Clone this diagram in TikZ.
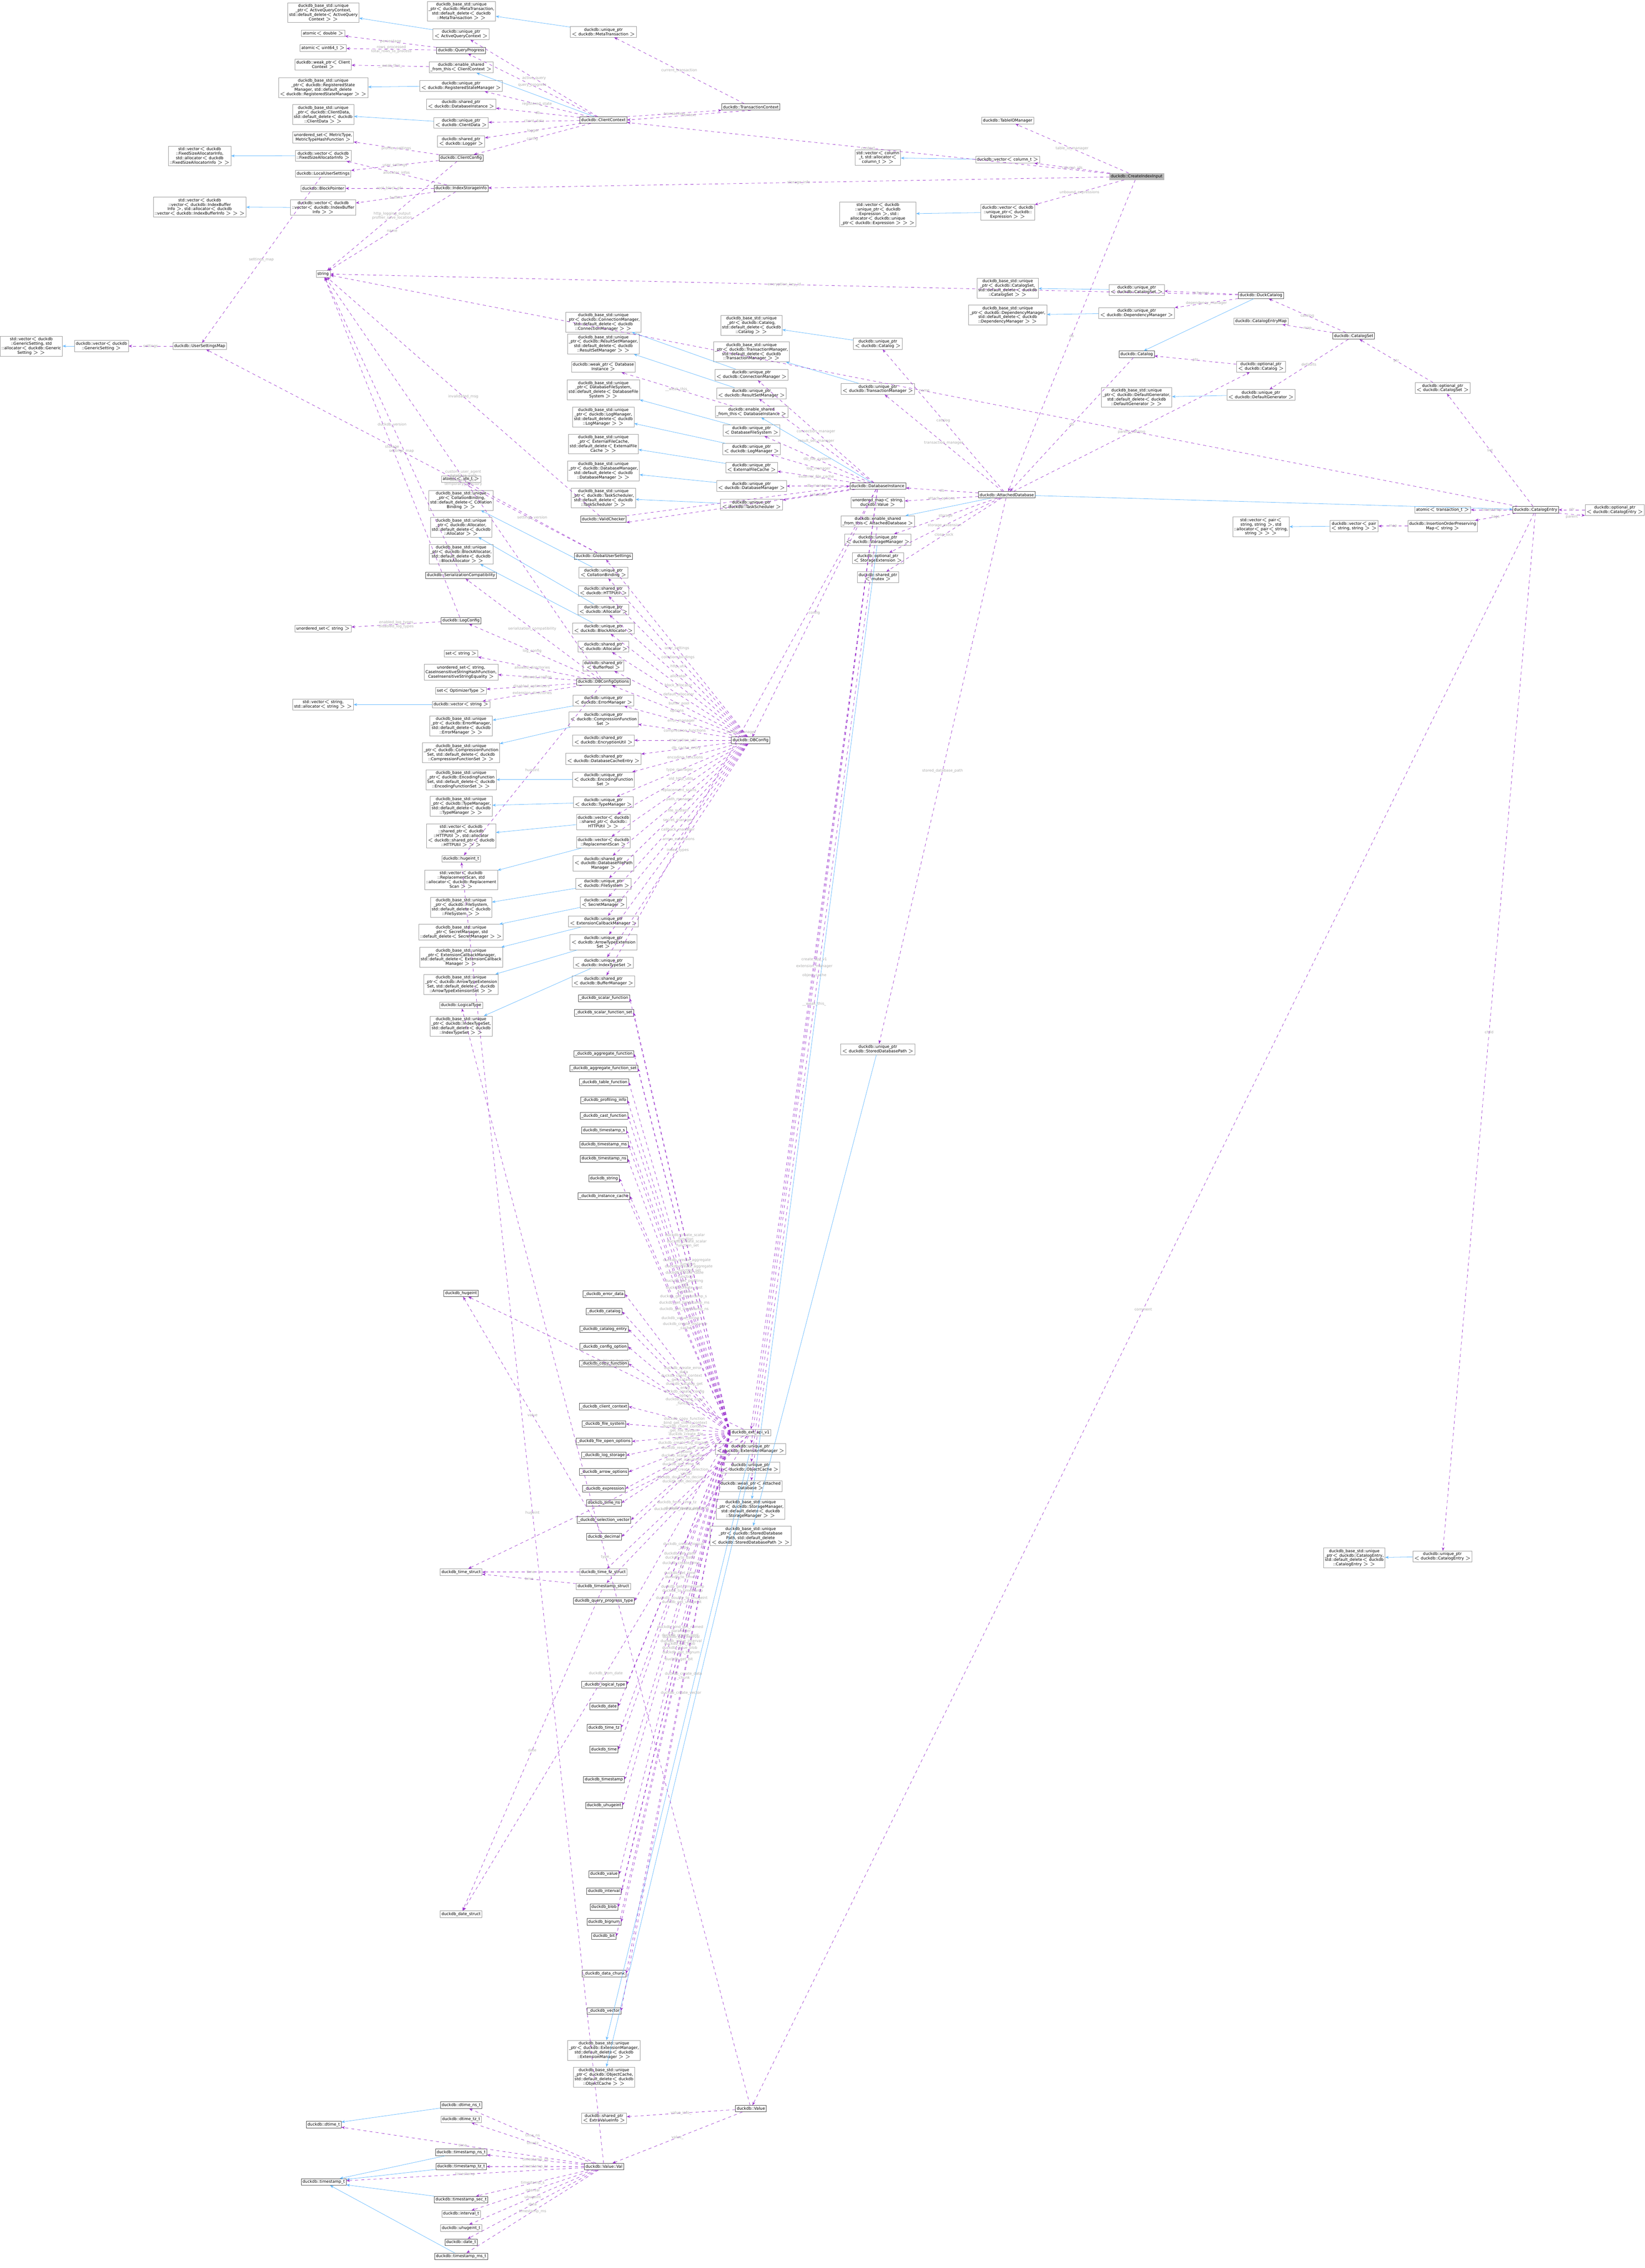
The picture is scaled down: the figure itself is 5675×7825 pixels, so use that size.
\documentclass[tikz,border=0pt]{standalone}
\usepackage{fontspec}
\setmainfont{DejaVu Sans}
\usetikzlibrary{arrows.meta}
\definecolor{memc}{HTML}{9A32CD}
\definecolor{inhc}{HTML}{63B8FF}
\definecolor{boxc}{HTML}{999999}
\definecolor{lblc}{HTML}{AAAAAA}
\tikzset{
  box/.style={draw=boxc,line width=0.3pt,fill=white,font=\fontsize{3.9}{4.4}\selectfont,align=center,inner sep=1.3pt,minimum height=0.22cm},
  hub/.style={box,draw=black!70},
  me/.style={draw=gray!60,fill=gray!55,font=\fontsize{3.9}{4.4}\selectfont,inner sep=1.3pt,minimum height=0.22cm},
  mem/.style={draw=memc,dashed,line width=0.35pt,-{Stealth[length=3.5pt]}},
  inh/.style={draw=inhc,line width=0.35pt,-{Stealth[length=3.5pt]}},
  lbl/.style={font=\fontsize{3.6}{4}\selectfont,text=lblc,align=center,inner sep=0.5pt,midway}
}
\begin{document}
\begin{tikzpicture}[x=0.01cm,y=-0.01cm]
\useasboundingbox (0,0) rectangle (5675,7825);
% top: client context
\node[box] (aqcb) at (1116,43) {duckdb\_base\_std::unique\\\_ptr$<$ ActiveQueryContext,\\std::default\_delete$<$ ActiveQuery\\Context $>$ $>$};
\node[box] (mtb) at (1592,39) {duckdb\_base\_std::unique\\\_ptr$<$ duckdb::MetaTransaction,\\std::default\_delete$<$ duckdb\\::MetaTransaction $>$ $>$};
\node[box] (aqc) at (1591,118) {duckdb::unique\_ptr\\$<$ ActiveQueryContext $>$};
\node[box] (mt) at (2082,110) {duckdb::unique\_ptr\\$<$ duckdb::MetaTransaction $>$};
\node[box] (atd) at (1115,115) {atomic$<$ double $>$};
\node[box] (atu) at (1115,166) {atomic$<$ uint64\_t $>$};
\node[hub] (qp) at (1591,174) {duckdb::QueryProgress};
\node[box] (wcc) at (1115,223) {duckdb::weak\_ptr$<$ Client\\Context $>$};
\node[box] (escc) at (1591,232) {duckdb::enable\_shared\\\_from\_this$<$ ClientContext $>$};
\node[box] (rsmb) at (1115,302) {duckdb\_base\_std::unique\\\_ptr$<$ duckdb::RegisteredState\\Manager, std::default\_delete\\$<$ duckdb::RegisteredStateManager $>$ $>$};
\node[box] (rsm) at (1591,296) {duckdb::unique\_ptr\\$<$ duckdb::RegisteredStateManager $>$};
\node[box] (spdi) at (1591,360) {duckdb::shared\_ptr\\$<$ duckdb::DatabaseInstance $>$};
\node[box] (cdb) at (1115,395) {duckdb\_base\_std::unique\\\_ptr$<$ duckdb::ClientData,\\std::default\_delete$<$ duckdb\\::ClientData $>$ $>$};
\node[box] (cd) at (1591,424) {duckdb::unique\_ptr\\$<$ duckdb::ClientData $>$};
\node[hub] (cc) at (2082,414) {duckdb::ClientContext};
\node[hub] (tc) at (2591,369) {duckdb::TransactionContext};
\node[box] (mtype) at (1115,474) {unordered\_set$<$ MetricType,\\MetricTypeHashFunction $>$};
\node[box] (lg) at (1591,488) {duckdb::shared\_ptr\\$<$ duckdb::Logger $>$};
\node[box] (vfsa) at (1115,537) {duckdb::vector$<$ duckdb\\::FixedSizeAllocatorInfo $>$};
\node[box] (svfsa) at (689,538) {std::vector$<$ duckdb\\::FixedSizeAllocatorInfo,\\std::allocator$<$ duckdb\\::FixedSizeAllocatorInfo $>$ $>$};
\node[hub] (ccfg) at (1591,545) {duckdb::ClientConfig};
\node[box] (lus) at (1115,599) {duckdb::LocalUserSettings};
\node[box] (bp) at (1115,650) {duckdb::BlockPointer};
\node[hub] (isi) at (1591,650) {duckdb::IndexStorageInfo};
\node[box] (vvib) at (1115,716) {duckdb::vector$<$ duckdb\\::vector$<$ duckdb::IndexBuffer\\Info $>$ $>$};
\node[box] (svvib) at (689,714) {std::vector$<$ duckdb\\::vector$<$ duckdb::IndexBuffer\\Info $>$, std::allocator$<$ duckdb\\::vector$<$ duckdb::IndexBufferInfo $>$ $>$ $>$};
\node[box] (str) at (1115,945) {string};
\node[box] (usm) at (689,1194) {duckdb::UserSettingsMap};
\node[box] (vgs) at (350,1194) {duckdb::vector$<$ duckdb\\::GenericSetting $>$};
\node[box] (svgs) at (108,1194) {std::vector$<$ duckdb\\::GenericSetting, std\\::allocator$<$ duckdb::Generic\\Setting $>$ $>$};
\node[box] (uss) at (1115,2169) {unordered\_set$<$ string $>$};
\node[box] (svs) at (1115,2431) {std::vector$<$ string,\\std::allocator$<$ string $>$ $>$};
% create index input and catalog
\node[box] (tiom) at (3477,416) {duckdb::TableIOManager};
\node[me] (cii) at (3922,609) {duckdb::CreateIndexInput};
\node[box] (vcol) at (3477,551) {duckdb::vector$<$ column\_t $>$};
\node[box] (svcol) at (3029,544) {std::vector$<$ column\\\_t, std::allocator$<$\\column\_t $>$ $>$};
\node[box] (vexp) at (3477,732) {duckdb::vector$<$ duckdb\\::unique\_ptr$<$ duckdb::\\Expression $>$ $>$};
\node[box] (svexp) at (3029,739) {std::vector$<$ duckdb\\::unique\_ptr$<$ duckdb\\::Expression $>$, std::\\allocator$<$ duckdb::unique\\\_ptr$<$ duckdb::Expression $>$ $>$ $>$};
\node[hub] (dcat) at (4351,1019) {duckdb::DuckCatalog};
\node[box] (ucs) at (3922,1000) {duckdb::unique\_ptr\\$<$ duckdb::CatalogSet $>$};
\node[box] (ucsb) at (3477,994) {duckdb\_base\_std::unique\\\_ptr$<$ duckdb::CatalogSet,\\std::default\_delete$<$ duckdb\\::CatalogSet $>$ $>$};
\node[box] (udm) at (3922,1080) {duckdb::unique\_ptr\\$<$ duckdb::DependencyManager $>$};
\node[box] (udmb) at (3477,1087) {duckdb\_base\_std::unique\\\_ptr$<$ duckdb::DependencyManager,\\std::default\_delete$<$ duckdb\\::DependencyManager $>$ $>$};
\node[box] (cem) at (4351,1108) {duckdb::CatalogEntryMap};
\node[hub] (cset) at (4671,1159) {duckdb::CatalogSet};
\node[hub] (cat) at (3922,1222) {duckdb::Catalog};
\node[box] (ocat) at (4351,1265) {duckdb::optional\_ptr\\$<$ duckdb::Catalog $>$};
\node[box] (ucat) at (3029,1186) {duckdb::unique\_ptr\\$<$ duckdb::Catalog $>$};
\node[box] (ucatb) at (2593,1122) {duckdb\_base\_std::unique\\\_ptr$<$ duckdb::Catalog,\\std::default\_delete$<$ duckdb\\::Catalog $>$ $>$};
\node[box] (utm) at (3029,1342) {duckdb::unique\_ptr\\$<$ duckdb::TransactionManager $>$};
\node[box] (utmb) at (2593,1214) {duckdb\_base\_std::unique\\\_ptr$<$ duckdb::TransactionManager,\\std::default\_delete$<$ duckdb\\::TransactionManager $>$ $>$};
\node[box] (udg) at (4351,1362) {duckdb::unique\_ptr\\$<$ duckdb::DefaultGenerator $>$};
\node[box] (udgb) at (3922,1371) {duckdb\_base\_std::unique\\\_ptr$<$ duckdb::DefaultGenerator,\\std::default\_delete$<$ duckdb\\::DefaultGenerator $>$ $>$};
\node[box] (ocs) at (4978,1339) {duckdb::optional\_ptr\\$<$ duckdb::CatalogSet $>$};
\node[hub] (adb) at (3474,1707) {duckdb::AttachedDatabase};
\node[hub] (ce) at (5299,1759) {duckdb::CatalogEntry};
\node[box] (oce) at (5572,1759) {duckdb::optional\_ptr\\$<$ duckdb::CatalogEntry $>$};
\node[box] (att) at (4978,1759) {atomic$<$ transaction\_t $>$};
\node[box] (iopm) at (4978,1815) {duckdb::InsertionOrderPreserving\\Map$<$ string $>$};
\node[box] (vpr) at (4672,1815) {duckdb::vector$<$ pair\\$<$ string, string $>$ $>$};
\node[box] (svpr) at (4351,1818) {std::vector$<$ pair$<$\\string, string $>$, std\\::allocator$<$ pair$<$ string,\\string $>$ $>$ $>$};
\node[box] (uce) at (4977,5370) {duckdb::unique\_ptr\\$<$ duckdb::CatalogEntry $>$};
\node[box] (uceb) at (4673,5375) {duckdb\_base\_std::unique\\\_ptr$<$ duckdb::CatalogEntry,\\std::default\_delete$<$ duckdb\\::CatalogEntry $>$ $>$};
% database instance
\node[box] (cmb) at (2082,1111) {duckdb\_base\_std::unique\\\_ptr$<$ duckdb::ConnectionManager,\\std::default\_delete$<$ duckdb\\::ConnectionManager $>$ $>$};
\node[box] (rsmgb) at (2082,1187) {duckdb\_base\_std::unique\\\_ptr$<$ duckdb::ResultSetManager,\\std::default\_delete$<$ duckdb\\::ResultSetManager $>$ $>$};
\node[box] (wdi) at (2082,1266) {duckdb::weak\_ptr$<$ Database\\Instance $>$};
\node[box] (dfsb) at (2082,1345) {duckdb\_base\_std::unique\\\_ptr$<$ DatabaseFileSystem,\\std::default\_delete$<$ DatabaseFile\\System $>$ $>$};
\node[box] (lmb) at (2082,1438) {duckdb\_base\_std::unique\\\_ptr$<$ duckdb::LogManager,\\std::default\_delete$<$ duckdb\\::LogManager $>$ $>$};
\node[box] (efcb) at (2082,1532) {duckdb\_base\_std::unique\\\_ptr$<$ ExternalFileCache,\\std::default\_delete$<$ ExternalFile\\Cache $>$ $>$};
\node[box] (dmb) at (2082,1625) {duckdb\_base\_std::unique\\\_ptr$<$ duckdb::DatabaseManager,\\std::default\_delete$<$ duckdb\\::DatabaseManager $>$ $>$};
\node[box] (tsb) at (2082,1718) {duckdb\_base\_std::unique\\\_ptr$<$ duckdb::TaskScheduler,\\std::default\_delete$<$ duckdb\\::TaskScheduler $>$ $>$};
\node[box] (ucm) at (2593,1293) {duckdb::unique\_ptr\\$<$ duckdb::ConnectionManager $>$};
\node[box] (ursm) at (2593,1357) {duckdb::unique\_ptr\\$<$ duckdb::ResultSetManager $>$};
\node[box] (esdi) at (2593,1421) {duckdb::enable\_shared\\\_from\_this$<$ DatabaseInstance $>$};
\node[box] (udfs) at (2593,1485) {duckdb::unique\_ptr\\$<$ DatabaseFileSystem $>$};
\node[box] (ulm) at (2593,1549) {duckdb::unique\_ptr\\$<$ duckdb::LogManager $>$};
\node[box] (uefc) at (2593,1613) {duckdb::unique\_ptr\\$<$ ExternalFileCache $>$};
\node[box] (udbm) at (2593,1677) {duckdb::unique\_ptr\\$<$ duckdb::DatabaseManager $>$};
\node[box] (uts) at (2593,1741) {duckdb::unique\_ptr\\$<$ duckdb::TaskScheduler $>$};
\node[hub] (di) at (3029,1677) {duckdb::DatabaseInstance};
\node[box] (umv) at (3029,1734) {unordered\_map$<$ string,\\duckdb::Value $>$};
\node[box] (esad) at (3029,1799) {duckdb::enable\_shared\\\_from\_this$<$ AttachedDatabase $>$};
\node[box] (usm2) at (3029,1862) {duckdb::unique\_ptr\\$<$ duckdb::StorageManager $>$};
\node[box] (ose) at (3029,1926) {duckdb::optional\_ptr\\$<$ StorageExtension $>$};
\node[box] (spmx) at (3029,1991) {duckdb::shared\_ptr\\$<$ mutex $>$};
\node[box] (usdp) at (3029,3620) {duckdb::unique\_ptr\\$<$ duckdb::StoredDatabasePath $>$};
\node[hub] (vc) at (2082,1791) {duckdb::ValidChecker};
% db config
\node[box] (atidx) at (1591,1653) {atomic$<$ idx\_t $>$};
\node[box] (cbb) at (1591,1726) {duckdb\_base\_std::unique\\\_ptr$<$ CollationBinding,\\std::default\_delete$<$ Collation\\Binding $>$ $>$};
\node[box] (alb) at (1591,1819) {duckdb\_base\_std::unique\\\_ptr$<$ duckdb::Allocator,\\std::default\_delete$<$ duckdb\\::Allocator $>$ $>$};
\node[box] (balb) at (1591,1912) {duckdb\_base\_std::unique\\\_ptr$<$ duckdb::BlockAllocator,\\std::default\_delete$<$ duckdb\\::BlockAllocator $>$ $>$};
\node[hub] (serc) at (1591,1985) {duckdb::SerializationCompatibility};
\node[hub] (lcfg) at (1591,2141) {duckdb::LogConfig};
\node[box] (sets) at (1591,2255) {set$<$ string $>$};
\node[box] (usci) at (1591,2319) {unordered\_set$<$ string,\\CaseInsensitiveStringHashFunction,\\CaseInsensitiveStringEquality $>$};
\node[box] (sopt) at (1591,2383) {set$<$ OptimizerType $>$};
\node[box] (vstr) at (1591,2431) {duckdb::vector$<$ string $>$};
\node[box] (emb) at (1591,2504) {duckdb\_base\_std::unique\\\_ptr$<$ duckdb::ErrorManager,\\std::default\_delete$<$ duckdb\\::ErrorManager $>$ $>$};
\node[box] (cfsb) at (1591,2597) {duckdb\_base\_std::unique\\\_ptr$<$ duckdb::CompressionFunction\\Set, std::default\_delete$<$ duckdb\\::CompressionFunctionSet $>$ $>$};
\node[box] (efsb) at (1591,2690) {duckdb\_base\_std::unique\\\_ptr$<$ duckdb::EncodingFunction\\Set, std::default\_delete$<$ duckdb\\::EncodingFunctionSet $>$ $>$};
\node[box] (tmb) at (1591,2781) {duckdb\_base\_std::unique\\\_ptr$<$ duckdb::TypeManager,\\std::default\_delete$<$ duckdb\\::TypeManager $>$ $>$};
\node[box] (svhu) at (1591,2884) {std::vector$<$ duckdb\\::shared\_ptr$<$ duckdb\\::HTTPUtil $>$, std::allocator\\$<$ duckdb::shared\_ptr$<$ duckdb\\::HTTPUtil $>$ $>$ $>$};
\node[box] (hug) at (1591,2963) {duckdb::hugeint\_t};
\node[box] (svrs) at (1591,3036) {std::vector$<$ duckdb\\::ReplacementScan, std\\::allocator$<$ duckdb::Replacement\\Scan $>$ $>$};
\node[box] (fsb) at (1591,3130) {duckdb\_base\_std::unique\\\_ptr$<$ duckdb::FileSystem,\\std::default\_delete$<$ duckdb\\::FileSystem $>$ $>$};
\node[box] (smb) at (1591,3216) {duckdb\_base\_std::unique\\\_ptr$<$ SecretManager, std\\::default\_delete$<$ SecretManager $>$ $>$};
\node[box] (ecmb) at (1591,3303) {duckdb\_base\_std::unique\\\_ptr$<$ ExtensionCallbackManager,\\std::default\_delete$<$ ExtensionCallback\\Manager $>$ $>$};
\node[box] (atesb) at (1591,3396) {duckdb\_base\_std::unique\\\_ptr$<$ duckdb::ArrowTypeExtension\\Set, std::default\_delete$<$ duckdb\\::ArrowTypeExtensionSet $>$ $>$};
\node[box] (ltype) at (1591,3468) {duckdb::LogicalType};
\node[box] (itsb) at (1591,3540) {duckdb\_base\_std::unique\\\_ptr$<$ duckdb::IndexTypeSet,\\std::default\_delete$<$ duckdb\\::IndexTypeSet $>$ $>$};
\node[hub] (gus) at (2082,1919) {duckdb::GlobalUserSettings};
\node[box] (ucb) at (2082,1976) {duckdb::unique\_ptr\\$<$ CollationBinding $>$};
\node[box] (sphu) at (2082,2039) {duckdb::shared\_ptr\\$<$ duckdb::HTTPUtil $>$};
\node[box] (ual) at (2082,2103) {duckdb::unique\_ptr\\$<$ duckdb::Allocator $>$};
\node[box] (uba) at (2082,2168) {duckdb::unique\_ptr\\$<$ duckdb::BlockAllocator $>$};
\node[box] (spal) at (2082,2231) {duckdb::shared\_ptr\\$<$ duckdb::Allocator $>$};
\node[box] (spbp) at (2082,2296) {duckdb::shared\_ptr\\$<$ BufferPool $>$};
\node[hub] (dbo) at (2082,2353) {duckdb::DBConfigOptions};
\node[box] (uem) at (2082,2417) {duckdb::unique\_ptr\\$<$ duckdb::ErrorManager $>$};
\node[box] (ucfs) at (2082,2482) {duckdb::unique\_ptr\\$<$ duckdb::CompressionFunction\\Set $>$};
\node[box] (speu) at (2082,2554) {duckdb::shared\_ptr\\$<$ duckdb::EncryptionUtil $>$};
\node[box] (spdce) at (2082,2618) {duckdb::shared\_ptr\\$<$ duckdb::DatabaseCacheEntry $>$};
\node[box] (uefs) at (2082,2690) {duckdb::unique\_ptr\\$<$ duckdb::EncodingFunction\\Set $>$};
\node[box] (utym) at (2082,2768) {duckdb::unique\_ptr\\$<$ duckdb::TypeManager $>$};
\node[box] (vshu) at (2082,2836) {duckdb::vector$<$ duckdb\\::shared\_ptr$<$ duckdb::\\HTTPUtil $>$ $>$};
\node[box] (vrs) at (2082,2906) {duckdb::vector$<$ duckdb\\::ReplacementScan $>$};
\node[box] (spdfp) at (2082,2979) {duckdb::shared\_ptr\\$<$ duckdb::DatabaseFilePath\\Manager $>$};
\node[box] (ufs) at (2082,3049) {duckdb::unique\_ptr\\$<$ duckdb::FileSystem $>$};
\node[box] (usec) at (2082,3114) {duckdb::unique\_ptr\\$<$ SecretManager $>$};
\node[box] (uecm) at (2082,3179) {duckdb::unique\_ptr\\$<$ ExtensionCallbackManager $>$};
\node[box] (uates) at (2082,3251) {duckdb::unique\_ptr\\$<$ duckdb::ArrowTypeExtension\\Set $>$};
\node[box] (uits) at (2082,3322) {duckdb::unique\_ptr\\$<$ duckdb::IndexTypeSet $>$};
\node[box] (spbm) at (2082,3385) {duckdb::shared\_ptr\\$<$ duckdb::BufferManager $>$};
\node[hub] (dbc) at (2590,2554) {duckdb::DBConfig};
% extension api
\node[box] (eapi) at (2590,4943) {duckdb\_ext\_api\_v1};
\node[box] (uem2) at (2590,4999) {duckdb::unique\_ptr\\$<$ duckdb::ExtensionManager $>$};
\node[box] (uoc) at (2590,5063) {duckdb::unique\_ptr\\$<$ duckdb::ObjectCache $>$};
\node[box] (wad) at (2590,5127) {duckdb::weak\_ptr$<$ Attached\\Database $>$};
\node[box] (smgb) at (2590,5207) {duckdb\_base\_std::unique\\\_ptr$<$ duckdb::StorageManager,\\std::default\_delete$<$ duckdb\\::StorageManager $>$ $>$};
\node[box] (sdpb) at (2590,5299) {duckdb\_base\_std::unique\\\_ptr$<$ duckdb::StoredDatabase\\Path, std::default\_delete\\$<$ duckdb::StoredDatabasePath $>$ $>$};
\node[hub] (dhug) at (1591,4462) {duckdb\_hugeint};
\node[box] (dts) at (1591,5424) {duckdb\_time\_struct};
\node[box] (dttz) at (2082,5424) {duckdb\_time\_tz\_struct};
\node[box] (dtss) at (2082,5473) {duckdb\_timestamp\_struct};
\node[box] (dds) at (1591,6604) {duckdb\_date\_struct};
\node[box] (emgb) at (2084,7074) {duckdb\_base\_std::unique\\\_ptr$<$ duckdb::ExtensionManager,\\std::default\_delete$<$ duckdb\\::ExtensionManager $>$ $>$};
\node[box] (ocb) at (2084,7166) {duckdb\_base\_std::unique\\\_ptr$<$ duckdb::ObjectCache,\\std::default\_delete$<$ duckdb\\::ObjectCache $>$ $>$};
\foreach \nm/\yy/\tx in {
  f1/3444/\_duckdb\_scalar\_function, f2/3494/\_duckdb\_scalar\_function\_set,
  f3/3636/\_duckdb\_aggregate\_function, f4/3686/\_duckdb\_aggregate\_function\_set,
  f5/3734/\_duckdb\_table\_function, f6/3796/\_duckdb\_profiling\_info,
  f7/3850/\_duckdb\_cast\_function, f8/3900/duckdb\_timestamp\_s,
  f9/3949/duckdb\_timestamp\_ms, f10/3998/duckdb\_timestamp\_ns,
  f11/4066/duckdb\_string, f12/4127/\_duckdb\_instance\_cache,
  f13/4465/\_duckdb\_error\_data, f14/4525/\_duckdb\_catalog,
  f15/4586/\_duckdb\_catalog\_entry, f16/4646/\_duckdb\_config\_option,
  f17/4705/\_duckdb\_copy\_function, f18/4853/\_duckdb\_client\_context,
  f19/4913/\_duckdb\_file\_system, f20/4973/\_duckdb\_file\_open\_options,
  f21/5021/\_duckdb\_log\_storage, f22/5078/\_duckdb\_arrow\_options,
  f23/5136/\_duckdb\_expression, f24/5185/duckdb\_time\_ns,
  f25/5244/\_duckdb\_selection\_vector, f26/5302/duckdb\_decimal,
  f27/5523/duckdb\_query\_progress\_type, f28/5812/\_duckdb\_logical\_type,
  f29/5887/duckdb\_date, f30/5961/duckdb\_time\_tz, f31/6036/duckdb\_time,
  f32/6140/duckdb\_timestamp, f33/6229/duckdb\_uhugeint, f34/6466/duckdb\_value,
  f35/6525/duckdb\_interval, f36/6580/duckdb\_blob, f37/6631/duckdb\_bignum,
  f38/6680/duckdb\_bit, f39/6809/\_duckdb\_data\_chunk, f40/6938/\_duckdb\_vector}
  \node[hub] (\nm) at (2084,\yy) {\tx};
% value
\node[hub] (val) at (2591,7275) {duckdb::Value};
\node[box] (spev) at (2084,7308) {duckdb::shared\_ptr\\$<$ ExtraValueInfo $>$};
\node[hub] (vv) at (2084,7475) {duckdb::Value::Val};
\node[hub] (dtn) at (1591,7263) {duckdb::dtime\_ns\_t};
\node[box] (dtz) at (1591,7312) {duckdb::dtime\_tz\_t};
\node[hub] (dt) at (1117,7330) {duckdb::dtime\_t};
\node[hub] (tsn) at (1591,7426) {duckdb::timestamp\_ns\_t};
\node[hub] (tstz) at (1591,7475) {duckdb::timestamp\_tz\_t};
\node[hub] (ts) at (1117,7528) {duckdb::timestamp\_t};
\node[hub] (tss) at (1591,7589) {duckdb::timestamp\_sec\_t};
\node[box] (itv) at (1591,7638) {duckdb::interval\_t};
\node[box] (uhg) at (1591,7687) {duckdb::uhugeint\_t};
\node[hub] (dte) at (1591,7736) {duckdb::date\_t};
\node[hub] (tsm) at (1591,7785) {duckdb::timestamp\_ms\_t};
% inheritance edges
\foreach \a/\b in {aqc/aqcb, mt/mtb, rsm/rsmb, cd/cdb, cc/escc, vfsa/svfsa, vvib/svvib, vgs/svgs,
  vcol/svcol, vexp/svexp, ucs/ucsb, udm/udmb, dcat/cat, ucat/ucatb, utm/utmb, udg/udgb, adb/ce,
  vpr/svpr, uce/uceb, ucm/cmb, ursm/rsmgb, udfs/dfsb, ulm/lmb, uefc/efcb, udbm/dmb, uts/tsb,
  di/esdi, adb/esad, ucb/cbb, ual/alb, uba/balb, uem/emb, ucfs/cfsb, uefs/efsb, utym/tmb,
  vshu/svhu, vrs/svrs, ufs/fsb, usec/smb, uecm/ecmb, uates/atesb, uits/itsb, vstr/svs,
  usm2/smgb, usdp/sdpb, uem2/emgb, uoc/ocb, dtn/dt, tsn/ts, tstz/ts, tss/ts, tsm/ts}
  \draw[inh] (\a) -- (\b);
% member edges
\draw[mem] (cc) -- node[lbl]{active\_query} (aqc);
\draw[mem] (cc) -- node[lbl]{query\_progress} (qp);
\draw[mem] (cc) -- node[lbl]{registered\_state} (rsm);
\draw[mem] (cc) -- node[lbl]{db} (spdi);
\draw[mem] (cc) -- node[lbl]{client\_data} (cd);
\draw[mem] (cc) -- node[lbl]{logger} (lg);
\draw[mem] (cc) -- node[lbl]{config} (ccfg);
\draw[mem] (cc.north east) -- node[lbl]{transaction} (tc.south west);
\draw[mem] (tc.south) -- node[lbl]{context} (cc.east);
\draw[mem] (tc) -- node[lbl]{current\_transaction} (mt);
\draw[mem] (qp) -- node[lbl]{percentage} (atd);
\draw[mem] (qp) -- node[lbl]{rows\_processed\\total\_rows\_to\_process} (atu);
\draw[mem] (escc) -- node[lbl]{\_\_weak\_this\_} (wcc);
\draw[mem] (ccfg) -- node[lbl]{profiler\_settings} (mtype);
\draw[mem] (ccfg) -- node[lbl]{user\_settings} (lus);
\draw[mem] (ccfg) -- node[lbl]{http\_logging\_output\\profiler\_save\_location} (str);
\draw[mem] (isi) -- node[lbl]{allocator\_infos} (vfsa);
\draw[mem] (isi) -- node[lbl]{root\_block\_ptr} (bp);
\draw[mem] (isi) -- node[lbl]{buffers} (vvib);
\draw[mem] (isi) -- node[lbl]{name} (str);
\draw[mem] (lus) -- node[lbl]{settings\_map} (usm);
\draw[mem] (gus) -- node[lbl]{settings\_map} (usm);
\draw[mem] (usm) -- node[lbl]{settings} (vgs);
\draw[mem] (cii) -- node[lbl]{table\_io\_manager} (tiom);
\draw[mem] (cii) -- node[lbl]{context} (cc);
\draw[mem] (cii) -- node[lbl]{column\_ids} (vcol);
\draw[mem] (cii) -- node[lbl]{storage\_info} (isi);
\draw[mem] (cii) -- node[lbl]{unbound\_expressions} (vexp);
\draw[mem] (cii) -- node[lbl]{db} (adb);
\draw[mem] (dcat) -- node[lbl]{schemas} (ucs);
\draw[mem] (dcat) -- node[lbl]{dependency\_manager} (udm);
\draw[mem] (dcat) -- node[lbl]{encryption\_key\_id} (str);
\draw[mem] (cset) -- node[lbl]{catalog} (dcat);
\draw[mem] (cset) -- node[lbl]{map} (cem);
\draw[mem] (cset) -- node[lbl]{defaults} (udg);
\draw[mem] (ocs) -- node[lbl]{ptr} (cset);
\draw[mem] (ocat) -- node[lbl]{ptr} (cat);
\draw[mem] (cat) -- node[lbl]{db} (adb);
\draw[mem] (adb) -- node[lbl]{catalog} (ucat);
\draw[mem] (adb) -- node[lbl]{transaction\_manager} (utm);
\draw[mem] (adb) -- node[lbl]{parent\_catalog} (ocat);
\draw[mem] (adb) -- node[lbl]{db} (di);
\draw[mem] (adb) -- node[lbl]{attach\_options} (umv);
\draw[mem] (adb) -- node[lbl]{storage} (usm2);
\draw[mem] (adb) -- node[lbl]{storage\_extension} (ose);
\draw[mem] (adb) -- node[lbl]{close\_lock} (spmx);
\draw[mem] (adb) -- node[lbl]{stored\_database\_path} (usdp);
\draw[mem] (esad) -- node[lbl]{\_\_weak\_this\_} (wad);
\draw[mem] (ce) -- node[lbl]{set} (ocs);
\draw[mem] (ce) -- node[lbl]{timestamp} (att);
\draw[mem] (ce.south east) -- node[lbl,below]{parent} (oce.south west);
\draw[mem] (oce) -- node[lbl]{ptr} (ce);
\draw[mem] (ce) -- node[lbl]{child} (uce);
\draw[mem] (ce) -- node[lbl]{name} (str);
\draw[mem] (ce) -- node[lbl]{comment} (val);
\draw[mem] (ce) -- node[lbl]{tags} (iopm);
\draw[mem] (iopm) -- node[lbl]{map} (vpr);
\draw[mem] (di) -- node[lbl]{connection\_manager} (ucm);
\draw[mem] (di) -- node[lbl]{result\_set\_manager} (ursm);
\draw[mem] (di) -- node[lbl]{db\_file\_system} (udfs);
\draw[mem] (di) -- node[lbl]{log\_manager} (ulm);
\draw[mem] (di) -- node[lbl]{external\_file\_cache} (uefc);
\draw[mem] (di) -- node[lbl]{db\_manager} (udbm);
\draw[mem] (di) -- node[lbl]{scheduler} (uts);
\draw[mem] (di) -- node[lbl]{config} (dbc);
\draw[mem] (di.south west) -- node[lbl]{db\_validity} (vc.south east);
\draw[mem] (di) -- node[lbl]{extension\_manager} (uem2);
\draw[mem] (di) -- node[lbl]{object\_cache} (uoc);
\draw[mem] (di) -- node[lbl]{create\_api\_v1} (eapi);
\draw[mem] (di) -- node[lbl]{buffer\_manager} (spbm);
\draw[mem] (esdi) -- node[lbl]{\_\_weak\_this\_} (wdi);
\draw[mem] (vc.north east) -- node[lbl]{db} (di.west);
\draw[mem] (vc) -- node[lbl]{invalidated\_msg} (str);
\draw[mem] (gus) -- node[lbl]{settings\_version} (atidx);
\draw[mem] (dbc) -- node[lbl]{user\_settings} (gus);
\draw[mem] (dbc) -- node[lbl]{collation\_bindings} (ucb);
\draw[mem] (dbc) -- node[lbl]{http\_util} (sphu);
\draw[mem] (dbc) -- node[lbl]{allocator} (ual);
\draw[mem] (dbc) -- node[lbl]{block\_allocator} (uba);
\draw[mem] (dbc) -- node[lbl]{default\_allocator} (spal);
\draw[mem] (dbc) -- node[lbl]{buffer\_pool} (spbp);
\draw[mem] (dbc) -- node[lbl]{options} (dbo);
\draw[mem] (dbc) -- node[lbl]{error\_manager} (uem);
\draw[mem] (dbc) -- node[lbl]{compression\_functions} (ucfs);
\draw[mem] (dbc) -- node[lbl]{encryption\_util} (speu);
\draw[mem] (dbc) -- node[lbl]{db\_cache\_entry} (spdce);
\draw[mem] (dbc) -- node[lbl]{encoding\_functions} (uefs);
\draw[mem] (dbc) -- node[lbl]{type\_manager} (utym);
\draw[mem] (dbc) -- node[lbl]{old\_http\_utils} (vshu);
\draw[mem] (dbc) -- node[lbl]{replacement\_scans} (vrs);
\draw[mem] (dbc) -- node[lbl]{path\_manager} (spdfp);
\draw[mem] (dbc) -- node[lbl]{file\_system} (ufs);
\draw[mem] (dbc) -- node[lbl]{secret\_manager} (usec);
\draw[mem] (dbc) -- node[lbl]{callback\_manager} (uecm);
\draw[mem] (dbc) -- node[lbl]{arrow\_extensions} (uates);
\draw[mem] (dbc) -- node[lbl]{index\_types} (uits);
\draw[mem] (dbo) -- node[lbl]{allowed\_directories} (sets);
\draw[mem] (dbo) -- node[lbl]{allowed\_configs} (usci);
\draw[mem] (dbo) -- node[lbl]{disabled\_optimizers} (sopt);
\draw[mem] (dbo) -- node[lbl]{extension\_directories} (vstr);
\draw[mem] (dbo) -- node[lbl]{log\_config} (lcfg);
\draw[mem] (dbo) -- node[lbl]{serialization\_compatibility} (serc);
\draw[mem] (dbo) -- node[lbl]{custom\_user\_agent\\database\_path\\database\_type\\temporary\_directory} (str);
\draw[mem] (dbo) -- node[lbl]{hugeint} (hug);
\draw[mem] (serc) -- node[lbl]{duckdb\_version} (str);
\draw[mem] (lcfg) -- node[lbl]{enabled\_log\_types\\disabled\_log\_types} (uss);
\draw[mem] (lcfg) -- node[lbl]{storage} (str);
% extension api members
\foreach \nm/\tx in {f1/duckdb\_create\_scalar\\\_function, f2/duckdb\_create\_scalar\\\_function\_set,
  f3/duckdb\_create\_aggregate\\\_function, f4/duckdb\_create\_aggregate\\\_function\_set,
  f5/duckdb\_create\_table\\\_function, f6/duckdb\_get\_profiling\\\_info, f7/duckdb\_create\_cast\\\_function,
  f8/duckdb\_get\_timestamp\_s, f9/duckdb\_get\_timestamp\_ms, f10/duckdb\_get\_timestamp\_ns,
  f11/duckdb\_value\_string, f12/duckdb\_create\_instance\\\_cache, f13/duckdb\_create\_error\\\_data,
  f14/duckdb\_client\_context\\\_get\_catalog, f15/duckdb\_catalog\_get\\\_entry,
  f16/duckdb\_create\_config\\\_option, f17/duckdb\_create\_copy\\\_function,
  f18/duckdb\_copy\_function\\\_bind\_get\_client\_context, f19/duckdb\_client\_context\\\_get\_file\_system,
  f20/duckdb\_create\_file\\\_open\_options, f21/duckdb\_create\_log\_storage,
  f22/duckdb\_result\_get\_arrow\\\_options, f23/duckdb\_scalar\_function\\\_bind\_get\_argument,
  f24/duckdb\_get\_time\_ns, f25/duckdb\_create\_selection\\\_vector, f26/duckdb\_double\_to\_decimal\\duckdb\_get\_decimal,
  f27/duckdb\_query\_progress, f28/duckdb\_create\_logical\\\_type, f29/duckdb\_get\_date\\duckdb\_to\_date,
  f30/duckdb\_create\_time\\\_tz, f31/duckdb\_get\_time\\duckdb\_to\_time, f32/duckdb\_get\_timestamp\\duckdb\_to\_timestamp,
  f33/duckdb\_double\_to\_uhugeint\\duckdb\_get\_uhugeint, f34/duckdb\_bind\_get\_named\\\_parameter\\duckdb\_create\_bool,
  f35/duckdb\_get\_interval\\duckdb\_value\_interval, f36/duckdb\_get\_blob\\duckdb\_value\_blob,
  f37/duckdb\_get\_bignum, f38/duckdb\_get\_bit, f39/duckdb\_create\_data\\\_chunk, f40/duckdb\_create\_vector}
  \draw[mem] (eapi.west) -- node[lbl,pos=0.45]{\tx} (\nm.east);
\draw[mem] (eapi) -- node[lbl]{duckdb\_from\_time} (dts);
\draw[mem] (eapi) -- node[lbl]{duckdb\_from\_time\_tz} (dttz);
\draw[mem] (eapi) -- node[lbl]{duckdb\_from\_timestamp} (dtss);
\draw[mem] (eapi) -- node[lbl]{duckdb\_from\_date} (dds);
\draw[mem] (eapi) -- node[lbl]{duckdb\_double\_to\_hugeint\\duckdb\_get\_hugeint} (dhug);
\draw[mem] (dttz) -- node[lbl]{time} (dts);
\draw[mem] (dtss) -- node[lbl]{time} (dts);
\draw[mem] (dtss) -- node[lbl]{date} (dds);
\draw[mem] (f26) -- node[lbl]{value} (dhug);
% value members
\draw[mem] (val) -- node[lbl]{value\_info\_} (spev);
\draw[mem] (val) -- node[lbl]{value\_} (vv);
\draw[mem] (val) -- node[lbl]{type\_} (ltype);
\draw[mem] (vv) -- node[lbl]{time\_ns} (dtn);
\draw[mem] (vv) -- node[lbl]{timetz} (dtz);
\draw[mem] (vv) -- node[lbl]{time} (dt);
\draw[mem] (vv) -- node[lbl]{timestamp\_ns} (tsn);
\draw[mem] (vv) -- node[lbl]{timestamp\_tz} (tstz);
\draw[mem] (vv) -- node[lbl]{timestamp} (ts);
\draw[mem] (vv) -- node[lbl]{timestamp\_s} (tss);
\draw[mem] (vv) -- node[lbl]{interval} (itv);
\draw[mem] (vv) -- node[lbl]{uhugeint} (uhg);
\draw[mem] (vv) -- node[lbl]{date} (dte);
\draw[mem] (vv) -- node[lbl]{timestamp\_ms} (tsm);
\draw[mem] (vv) -- node[lbl]{hugeint} (hug);
\end{tikzpicture}
\end{document}
